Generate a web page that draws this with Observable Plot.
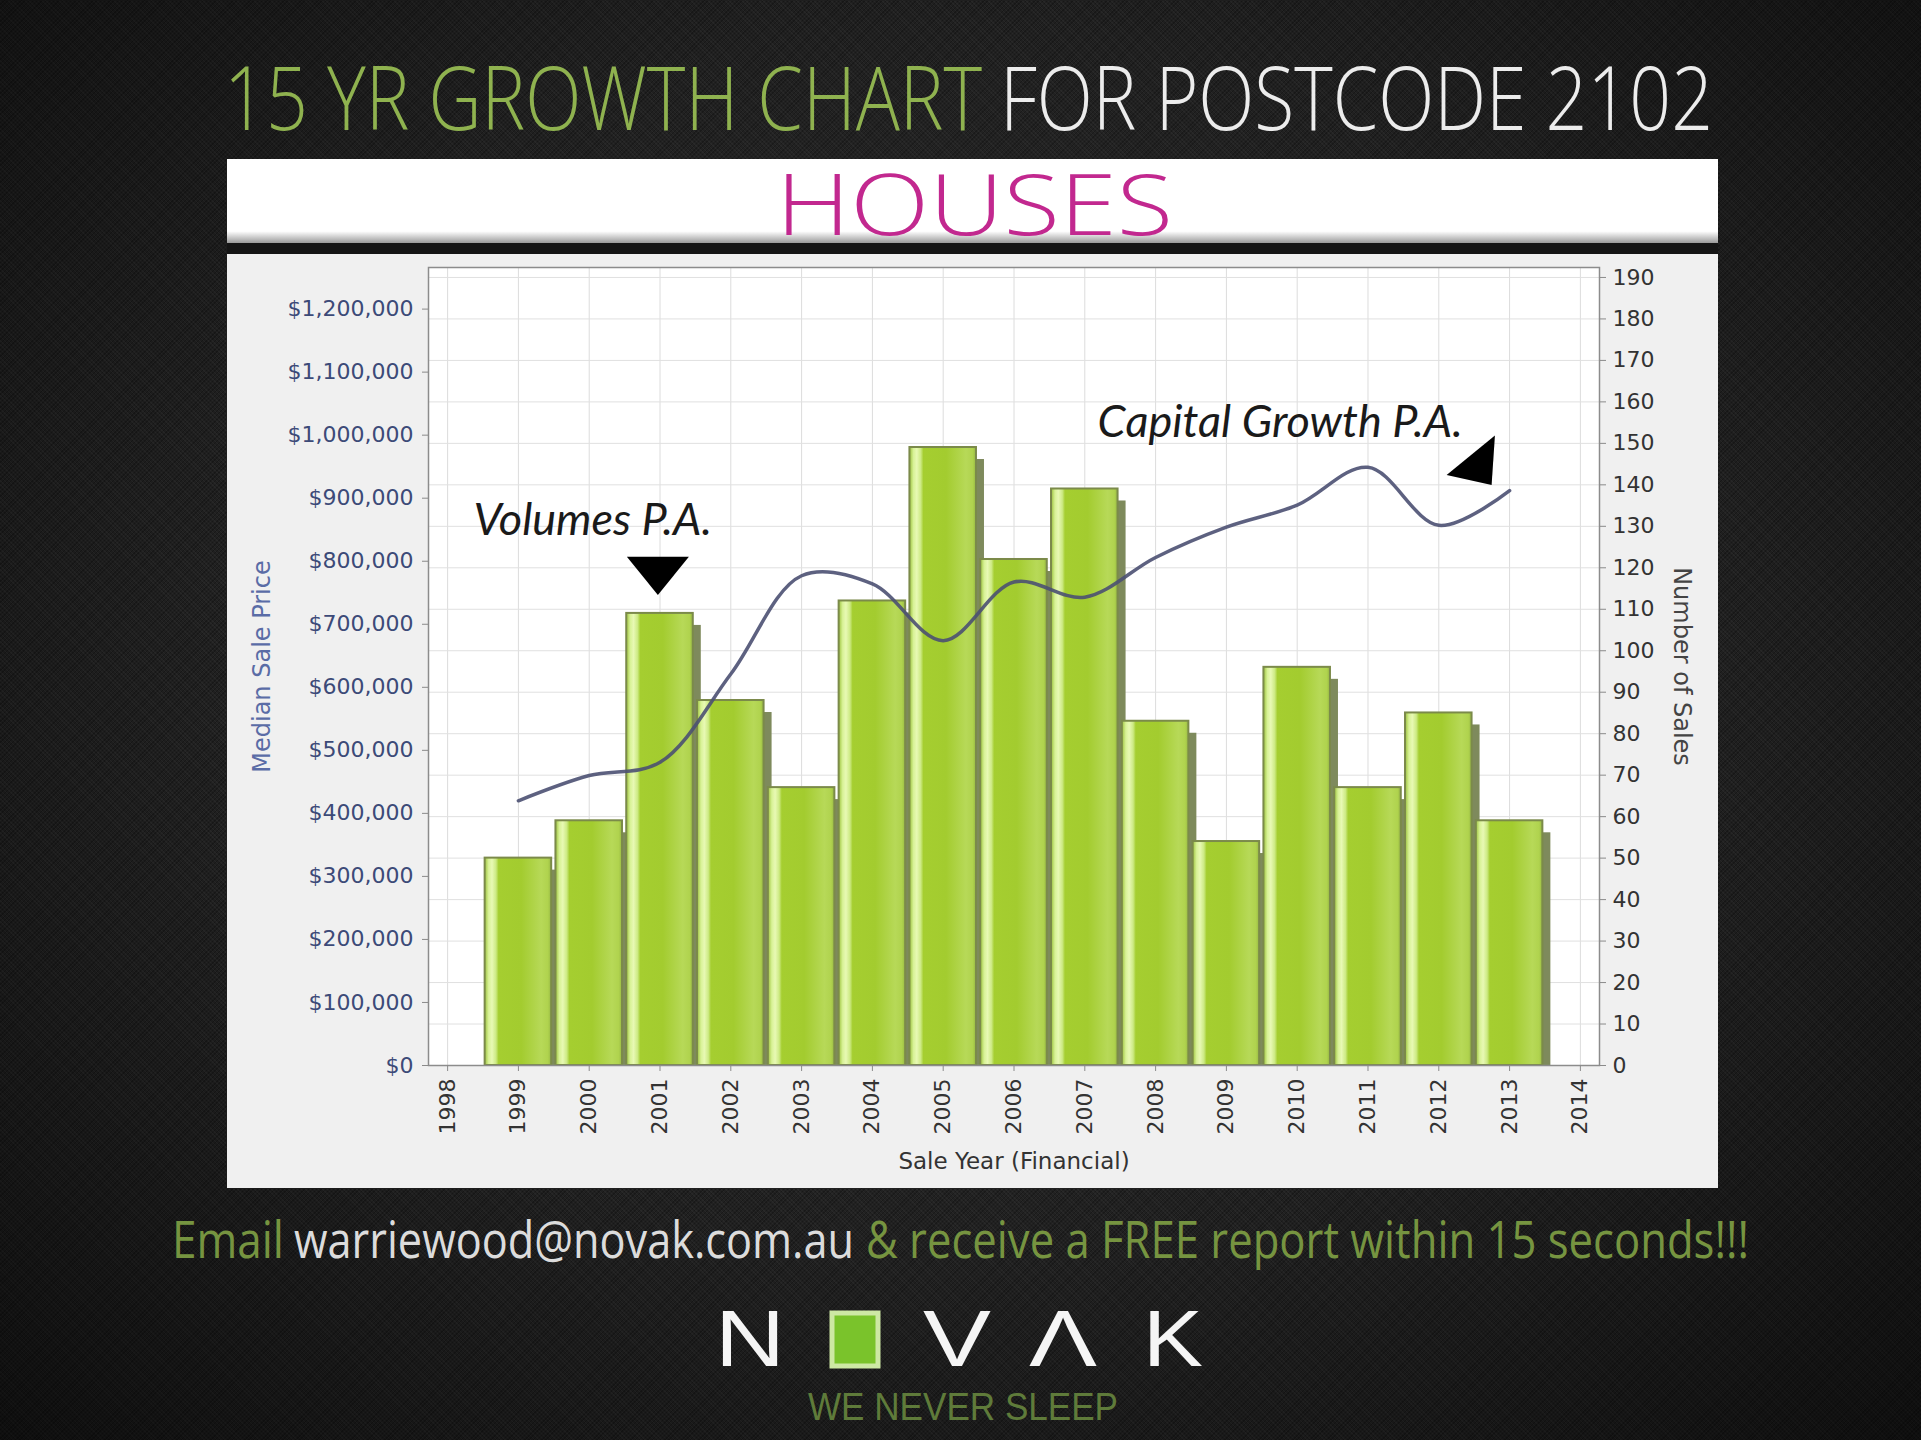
<!DOCTYPE html>
<html>
<head>
<meta charset="utf-8">
<script src="https://cdn.jsdelivr.net/npm/d3@7"></script>
<script src="https://cdn.jsdelivr.net/npm/@observablehq/plot@0.6"></script>
<style>
html,body{margin:0;padding:0;}
body{width:1921px;height:1440px;overflow:hidden;background:#1a1a1a;}
#page{position:relative;width:1921px;height:1440px;
 background:
  radial-gradient(ellipse at 50% 45%, rgba(70,70,70,0.30) 0%, rgba(0,0,0,0) 55%, rgba(0,0,0,0.55) 100%),
  repeating-linear-gradient(45deg, rgba(255,255,255,0.035) 0 1px, rgba(0,0,0,0) 1px 3px),
  repeating-linear-gradient(-45deg, rgba(0,0,0,0.25) 0 1px, rgba(0,0,0,0) 1px 3px),
  #202020;}
#decor{position:absolute;left:0;top:0;}
#chart{position:absolute;left:227px;top:254px;}
.t{position:absolute;white-space:nowrap;transform-origin:0 50%;}
</style>
</head>
<body>
<div id="page">
<svg id="decor" width="1921" height="1440">
  <defs>
    <linearGradient id="barGrad" x1="0" x2="1" y1="0" y2="0">
      <stop offset="0" stop-color="#9cc23c"/>
      <stop offset="0.06" stop-color="#d8f296"/>
      <stop offset="0.11" stop-color="#e8f9b4"/>
      <stop offset="0.17" stop-color="#cdea84"/>
      <stop offset="0.21" stop-color="#a5ce30"/>
      <stop offset="0.55" stop-color="#a3cc2f"/>
      <stop offset="0.85" stop-color="#b7d958"/>
      <stop offset="0.95" stop-color="#b0d34e"/>
      <stop offset="1" stop-color="#98b944"/>
    </linearGradient>
    <linearGradient id="bannerShade" x1="0" x2="0" y1="0" y2="1">
      <stop offset="0" stop-color="#ffffff"/>
      <stop offset="0.86" stop-color="#ffffff"/>
      <stop offset="1" stop-color="#9a9a9a"/>
    </linearGradient>
  </defs>
  <rect x="227" y="159" width="1491" height="84" fill="url(#bannerShade)"/>
  <rect x="227" y="243" width="1491" height="11" fill="#151515"/>
  <rect x="227" y="254" width="1491" height="934" fill="#f0f0f0"/>
  <rect x="832" y="1313" width="46" height="53" fill="#7ac32b" stroke="#cde8a4" stroke-width="5"/>
</svg>
<div id="texts"></div>
<div id="chart"></div>
</div>
<script>
// ---- data ----
const years = [1999, 2000, 2001, 2002, 2003, 2004, 2005, 2006, 2007, 2008, 2009, 2010, 2011, 2012, 2013];
const salesVolumes = [50, 59, 109, 88, 67, 112, 149, 122, 139, 83, 54, 96, 67, 85, 59];
const medianPrices = [420000, 460000, 481000, 621000, 777000, 764000, 674000, 767000, 743000, 806000, 854000, 889000, 949000, 857000, 912000];
const priceTicks = d3.range(0, 1200001, 100000);
const salesTicks = d3.range(0, 191, 10);
const yearTicks = d3.range(1998, 2015);
const annotationLabels = ["Volumes P.A.", "Capital Growth P.A."];
const annotationYears = [2000.05, 2009.76];
const annotationSales = [131.3, 154.9];
const markerYears = [2000.97, 2012.55];
const markerSales = [119.6, 144.8];

// ---- page texts (title, banner, footer, logo) ----
const OPEN = {family: "Open Sans", asc: 1.069, desc: 0.293};
const LIB = {family: "Liberation Sans", asc: 0.905, desc: 0.212};
const pageTexts = [
  {text: "15 YR GROWTH CHART", x: 224, w: 758, base: 131, size: 88, weight: 300, color: "#8fb24f", font: OPEN},
  {text: "FOR POSTCODE 2102", x: 1000, w: 713, base: 131, size: 88, weight: 300, color: "#ececec", font: OPEN},
  {text: "HOUSES", x: 775.5, w: 397, base: 236, size: 84, weight: 300, color: "#c2288f", font: OPEN},
  {text: "Email", x: 172, w: 112, base: 1258, size: 52, weight: 400, color: "#769440", font: OPEN},
  {text: "warriewood@novak.com.au", x: 294, w: 560, base: 1258, size: 52, weight: 400, color: "#dcdcdc", font: OPEN},
  {text: "& receive a FREE report within 15 seconds!!!", x: 866, w: 883, base: 1258, size: 52, weight: 400, color: "#769440", font: OPEN},
  {text: "N", x: 715, w: 70, base: 1367, size: 79.6, weight: 400, color: "#f5f5f5", font: LIB},
  {text: "V", x: 923, w: 68, base: 1367, size: 79.6, weight: 400, color: "#f5f5f5", font: LIB},
  {text: "Λ", x: 1029, w: 68, base: 1367, size: 79.6, weight: 400, color: "#f5f5f5", font: LIB},
  {text: "K", x: 1143, w: 60, base: 1367, size: 79.6, weight: 400, color: "#f5f5f5", font: LIB},
  {text: "WE NEVER SLEEP", x: 808, w: 310, base: 1421, size: 39, weight: 400, color: "#5f7b3a", font: LIB}
];
const holder = document.getElementById("texts");
for (const p of pageTexts) {
  const el = document.createElement("div");
  el.className = "t";
  el.textContent = p.text;
  const L = Math.round(p.size * 0.78);
  el.style.fontFamily = `"${p.font.family}"`;
  el.style.fontSize = p.size + "px";
  el.style.fontWeight = p.weight;
  el.style.color = p.color;
  el.style.lineHeight = L + "px";
  el.style.left = p.x + "px";
  const baseOffset = L / 2 + (p.font.asc - p.font.desc) / 2 * p.size;
  el.style.top = (p.base - baseOffset) + "px";
  holder.appendChild(el);
  const natural = el.getBoundingClientRect().width;
  el.style.transform = `scaleX(${p.w / natural})`;
}

// right axis (sales) aligned with left axis (price)
const K = 6580;

const bars = years.map((year, i) => ({year, v: salesVolumes[i] * K}));
const prices = years.map((year, i) => ({year, price: medianPrices[i]}));
const notes = annotationLabels.map((label, i) => ({label, year: annotationYears[i], v: annotationSales[i] * K}));
const markers = markerYears.map((year, i) => ({year, v: markerSales[i] * K}));

const downTriangle = {draw(ctx) { ctx.moveTo(-31, -12.7); ctx.lineTo(31, -12.7); ctx.lineTo(0, 25.5); ctx.closePath(); }};
const leftTriangle = {draw(ctx) { ctx.moveTo(17.2, -29.4); ctx.lineTo(13.9, 20); ctx.lineTo(-31.1, 10); ctx.closePath(); }};

const chart = Plot.plot({
  width: 1491,
  height: 934,
  marginLeft: 201,
  marginRight: 119,
  marginTop: 13,
  marginBottom: 123,
  style: {background: "#f0f0f0", fontFamily: "DejaVu Sans", fontSize: "22px"},
  x: {domain: [1997.73, 2014.27], axis: null},
  y: {domain: [0, 1266000], axis: null},
  marks: [
    Plot.frame({fill: "white", stroke: "none"}),
    Plot.gridX(yearTicks, {stroke: "#dcdcdc", strokeOpacity: 1}),
    Plot.gridY(salesTicks.map(s => s * K), {stroke: "#e0e0e0", strokeOpacity: 1}),
    Plot.rectY(bars, {x1: d => d.year - 0.47, x2: d => d.year + 0.47, y: "v", fill: "#7e8a5c", dx: 8, dy: 12, clip: true}),
    Plot.rectY(bars, {x1: d => d.year - 0.47, x2: d => d.year + 0.47, y: "v", fill: "url(#barGrad)", stroke: "#7b8a4a", strokeWidth: 2}),
    Plot.line(prices, {x: "year", y: "price", curve: "catmull-rom", stroke: "#4b5072", strokeWidth: 3.5, strokeOpacity: 0.9}),
    Plot.text(notes, {x: "year", y: "v", text: "label", fontStyle: "italic", fontFamily: "Lato", fontSize: 45, fill: "#1a1a1a"}),
    Plot.dot([markers[0]], {x: "year", y: "v", symbol: downTriangle, fill: "#000", stroke: "none"}),
    Plot.dot([markers[1]], {x: "year", y: "v", symbol: leftTriangle, fill: "#000", stroke: "none"}),
    Plot.frame({stroke: "#8c8c8c", strokeWidth: 1.5}),
    Plot.axisY(priceTicks, {anchor: "left", tickFormat: d3.format("$,.0f"), tickSize: 6, tickPadding: 9, fill: "#3c4a78", stroke: "#8a8a8a", label: null}),
    Plot.axisY(salesTicks.map(s => s * K), {anchor: "right", tickFormat: d => String(Math.round(d / K)), tickSize: 6, tickPadding: 7, fill: "#333", stroke: "#8a8a8a", label: null}),
    Plot.axisX(yearTicks, {anchor: "bottom", tickFormat: d => String(d), tickRotate: -90, tickSize: 6, tickPadding: 7, fill: "#333", stroke: "#8a8a8a", label: null}),
    Plot.text(["Median Sale Price"], {frameAnchor: "left", dx: -166, rotate: -90, textAnchor: "middle", lineAnchor: "middle", fill: "#5a6ca6", fontSize: 24}),
    Plot.text(["Number of Sales"], {frameAnchor: "right", dx: 82, rotate: 90, textAnchor: "middle", lineAnchor: "middle", fill: "#444", fontSize: 24}),
    Plot.text(["Sale Year (Financial)"], {frameAnchor: "bottom", dy: 96, textAnchor: "middle", lineAnchor: "middle", fill: "#333", fontSize: 23})
  ]
});
document.getElementById("chart").appendChild(chart);
</script>
</body>
</html>
